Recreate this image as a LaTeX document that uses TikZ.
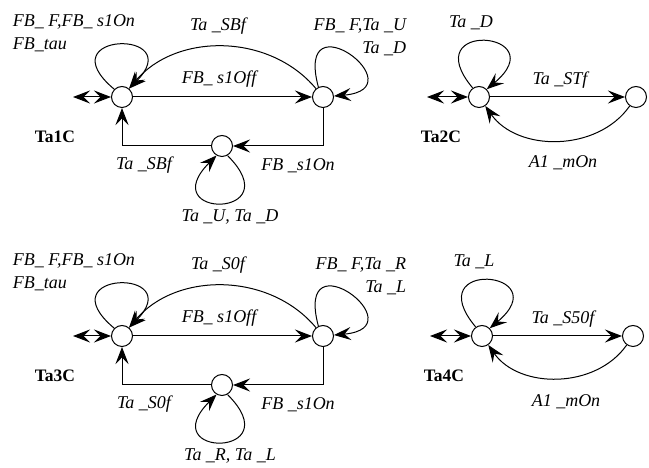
\documentclass[tikz,border=0pt]{standalone}
\usepackage{fontspec}
\setmainfont{Liberation Serif}
\usetikzlibrary{arrows.meta}

\tikzset{
  state/.style={circle, draw, minimum size=21pt, inner sep=0pt},
  lbl/.style={font=\fontsize{18}{23}\selectfont\itshape},
  tag/.style={font=\fontsize{17.5}{20}\selectfont\bfseries},
}

\begin{document}
\begin{tikzpicture}[x=1pt, y=1pt, line width=1pt,
    >={Stealth[length=17pt,width=13pt,inset=6.5pt]}]
  \useasboundingbox (0,0) rectangle (649,468);

  % Ta1C and Ta3C: three states, the bottom one with a loop of its own
  \foreach \y/\aut/\sig/\ma/\mb in {371/Ta1C/SBf/U/D, 132/Ta3C/S0f/R/L}
  {
    \node[state] (l\aut) at (122,\y) {};
    \node[state] (r\aut) at (323,\y) {};
    \node[state] (b\aut) at (222,\y-49) {};
    \coordinate (i\aut) at (73,\y);
    \node[tag] (t\aut) at (55,\y-40) {\aut};

    \draw[<->] (i\aut) -- (l\aut);
    \draw[->] (l\aut) -- (r\aut);
    \draw[->] (r\aut) to[bend right=50] (l\aut);
    \draw[->] (r\aut) |- (b\aut);
    \draw[->] (b\aut) -| (l\aut);
    \draw[->] (l\aut.135) .. controls +(140:90) and +(45:85) .. (l\aut.50);
    \draw[->] (r\aut.115) .. controls +(105:95) and +(5:85) .. (r\aut.5);
    \draw[->] (b\aut.-60) .. controls +(-45:90) and +(-135:90) .. (b\aut.-120);

    \node[lbl, align=left, anchor=west] (lo\aut) at (9,\y+64) {FB\_ F,FB\_ s1On\\FB\_tau};
    \node[lbl, align=right, anchor=east] (ro\aut) at (410,\y+59.5) {FB\_ F,Ta \_\ma\\Ta \_\mb};
    \node[lbl] (a\aut) at (218,\y+71) {Ta \_\sig};
    \node[lbl] (s\aut) at (219,\y+17.5) {FB\_ s1Off};
    \node[lbl] (d\aut) at (144,\y-68.5) {Ta \_\sig};
    \node[lbl] (u\aut) at (298,\y-68.5) {FB \_s1On};
    \node[lbl] (bo\aut) at (230,\y-119.5) {Ta \_\ma, Ta \_\mb};
  }

  % Ta2C and Ta4C: two states
  \foreach \x/\xr/\y/\aut/\sig/\m in {479/636/371/Ta2C/STf/D, 482/633/132/Ta4C/S50f/L}
  {
    \node[state] (l\aut) at (\x,\y) {};
    \node[state] (r\aut) at (\xr,\y) {};
    \coordinate (i\aut) at (\x-52,\y);
    \node[tag] (t\aut) at (\x-38,\y-40) {\aut};

    \draw[<->] (i\aut) -- (l\aut);
    \draw[->] (l\aut) -- (r\aut);
    \draw[->] (r\aut) to[bend left=55] (l\aut);
    \draw[->] (l\aut.125) .. controls +(130:90) and +(40:90) .. (l\aut.45);

    \node[lbl] (lo\aut) at (\x-8,\y+74) {Ta \_\m};
    \node[lbl] (s\aut) at (\x+81,\y+17) {Ta \_\sig};
    \node[lbl] (a\aut) at (\x+84,\y-65.5) {A1 \_mOn};
  }
\end{tikzpicture}
\end{document}
